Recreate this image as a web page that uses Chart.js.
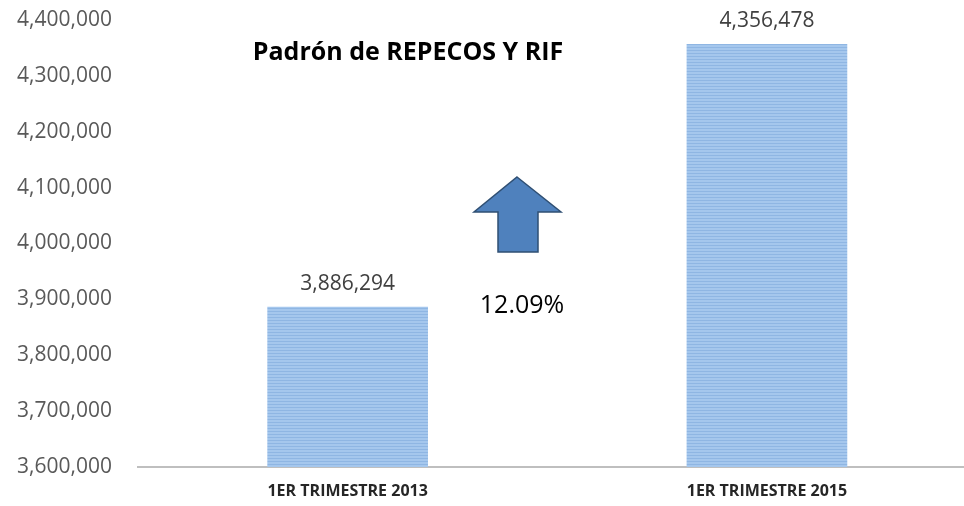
<!DOCTYPE html>
<html>
<head>
<meta charset="utf-8">
<script src="https://cdn.jsdelivr.net/npm/chart.js@4"></script>
<style>
  html, body { margin: 0; padding: 0; background: #fff; }
  #wrap { width: 964px; height: 506px; }
</style>
</head>
<body>
<div id="wrap"><canvas id="chart" width="964" height="506"></canvas></div>
<script>
// chart data
const categories = ['1ER TRIMESTRE 2013', '1ER TRIMESTRE 2015'];
const padron = [3886294, 4356478];
const yTicks = [3600000, 3700000, 3800000, 3900000, 4000000, 4100000, 4200000, 4300000, 4400000];
const titleText = 'Padrón de REPECOS Y RIF';
const growthText = '12.09%';

// striped blue fill like the original bars
function stripes() {
    const c = document.createElement('canvas');
    c.width = 4; c.height = 3;
    const g = c.getContext('2d');
    g.fillStyle = '#a5c7ed';
    g.fillRect(0, 0, 4, 3);
    g.fillStyle = '#8fb6e3';
    g.fillRect(0, 2, 4, 1);
    return g.createPattern(c, 'repeat');
}

const fmt = v => v.toLocaleString('en-US');

// title, arrow, percentage and value labels
const extras = {
    id: 'extras',
    afterDatasetsDraw(chart) {
        const ctx = chart.ctx;
        ctx.save();
        ctx.textAlign = 'center';
        ctx.textBaseline = 'middle';

        ctx.fillStyle = '#404040';
        ctx.font = '21px "Open Sans", sans-serif';
        chart.getDatasetMeta(0).data.forEach((bar, i) => {
            ctx.fillText(fmt(padron[i]), bar.x, bar.y - 23);
        });

        ctx.fillStyle = '#000';
        ctx.font = 'bold 25px "Open Sans", sans-serif';
        ctx.fillText(titleText, 408, 53);

        ctx.font = '25px "Open Sans", sans-serif';
        ctx.fillText(growthText, 522, 306);

        // up arrow
        ctx.beginPath();
        ctx.moveTo(517, 177);
        ctx.lineTo(561, 212);
        ctx.lineTo(538, 212);
        ctx.lineTo(538, 252);
        ctx.lineTo(498, 252);
        ctx.lineTo(498, 212);
        ctx.lineTo(474, 212);
        ctx.closePath();
        ctx.fillStyle = '#4f81bd';
        ctx.fill();
        ctx.strokeStyle = '#2f4f73';
        ctx.lineWidth = 1.5;
        ctx.stroke();
        ctx.restore();
    }
};

const ctx = document.getElementById('chart').getContext('2d');
new Chart(ctx, {
    type: 'bar',
    data: {
        datasets: [{
            data: padron.map((v, i) => ({ x: i, y: v })),
            backgroundColor: stripes(),
            borderWidth: 0,
            barThickness: 160
        }]
    },
    options: {
        responsive: false,
        animation: false,
        layout: { padding: { top: 20, right: 0, bottom: 0, left: 0 } },
        plugins: { legend: { display: false }, tooltip: { enabled: false } },
        scales: {
            x: {
                type: 'linear',
                offset: false,
                min: -0.5,
                max: 1.47,
                afterBuildTicks: s => { s.ticks = categories.map((c, i) => ({ value: i })); },
                afterFit: s => { s.height = 39; s.paddingLeft = 0; s.paddingRight = 0; },
                ticks: {
                    callback: v => categories[v],
                    color: '#262626',
                    font: { family: '"Open Sans", sans-serif', size: 16, weight: 'bold' },
                    padding: 15,
                    maxRotation: 0
                },
                grid: { display: false, drawTicks: false },
                border: { display: true, color: '#bfbfbf', width: 2 }
            },
            y: {
                min: 3600000,
                max: 4400000,
                afterBuildTicks: s => { s.ticks = yTicks.map(v => ({ value: v })); },
                afterFit: s => { s.width = 138; s.paddingTop = 0; s.paddingBottom = 0; },
                ticks: {
                    callback: v => fmt(v),
                    color: '#595959',
                    font: { family: '"Open Sans", sans-serif', size: 21 },
                    padding: 26
                },
                grid: { display: false, drawTicks: false },
                border: { display: false }
            }
        }
    },
    plugins: [extras]
});
</script>
</body>
</html>
